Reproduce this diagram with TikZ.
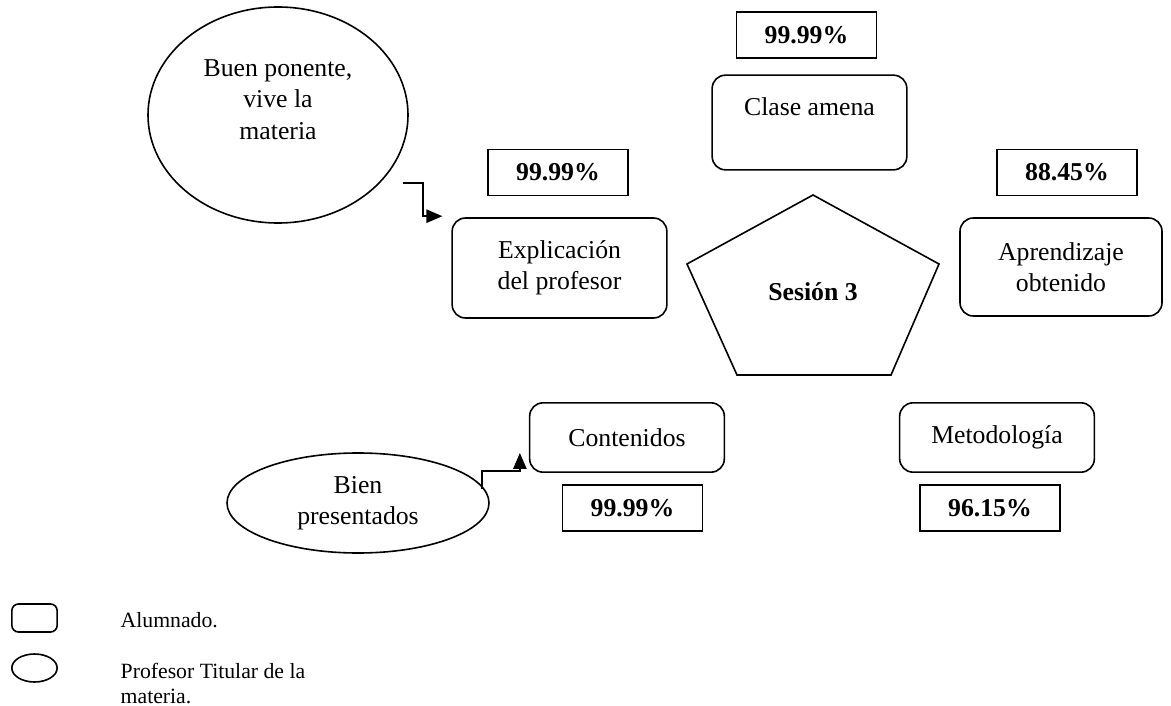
\documentclass[tikz,border=0pt]{standalone}
\usepackage{fontspec}
\setmainfont{Liberation Serif}
\usetikzlibrary{arrows.meta, positioning, shapes.geometric, calc}

\begin{document}
\begin{tikzpicture}[
    x=0.75pt, y=-0.75pt,
    every node/.style={font=\fontsize{19.3}{23.5}\selectfont},
    rbox/.style={rectangle, draw, line width=1.2pt, rounded corners=10pt, align=center, inner sep=0pt, minimum width=146pt, minimum height=52pt},
    pct/.style={rectangle, draw, line width=1.2pt, inner sep=0pt, minimum width=105pt, minimum height=34.5pt, font=\fontsize{19.3}{23.5}\selectfont\bfseries},
    prof/.style={ellipse, draw, line width=1.2pt, align=center, inner sep=0pt},
    arrow/.style={-{Triangle[length=12pt, width=10pt]}, line width=1.2pt},
    legend/.style={font=\fontsize{16.3}{19}\selectfont, align=left, anchor=west}
]
\useasboundingbox (0,0) rectangle (1171,706);

% ============ CENTRE ============
\draw[line width=1.2pt] (813,195) -- (939,264) -- (891,375) -- (737,375) -- (687,264) -- cycle;
\node[font=\fontsize{19.3}{23.5}\selectfont\bfseries] (sesion) at (813,292) {Sesión 3};

% ============ ALUMNADO ============
\node[rbox, minimum width=146pt, minimum height=71pt] (clase) at (809.5,122.5) {Clase amena\\\mbox{}};
\node[rbox, minimum width=161pt, minimum height=75pt] (expl) at (559.5,268) {Explicación\\del profesor};
\node[rbox, minimum width=151.5pt, minimum height=73.5pt] (apr) at (1061,267) {Aprendizaje\\obtenido};
\node[rbox] (cont) at (627,437.5) {Contenidos};
\node[rbox] (met) at (997,437.5) {Metodología};

% Percentages
\node[pct] (pclase) at (806.5,35) {99.99\%};
\node[pct] (pexpl) at (558,172.5) {99.99\%};
\node[pct] (papr) at (1067,172.5) {88.45\%};
\node[pct] (pcont) at (632.5,508) {99.99\%};
\node[pct] (pmet) at (990,508) {96.15\%};

% ============ PROFESOR ============
\node[prof, minimum width=195pt, minimum height=162pt] (ponente) at (278,115) {Buen ponente,\\vive la\\materia\\\mbox{}};
\node[prof, minimum width=196.5pt, minimum height=75pt] (presentados) at (358,503) {Bien\\presentados};

% Arrows
\coordinate (a1) at (403,183);
\coordinate (a2) at (482,489);
\draw[arrow] (a1) -- ++(20,0) |- ($(expl.north west)+(-9,-1)$);
\draw[arrow] (a2) |- ($(cont.south west)+(-9,-2)$) -- ($(cont.south west)+(-9,-20)$);

% ============ LEGEND ============
\node[rbox, minimum width=34pt, minimum height=21pt, rounded corners=5pt] (lalum) at (34.5,618) {};
\node[prof, minimum width=34pt, minimum height=21pt] (lprof) at (34.5,668) {};
\node[legend] (talum) at (116,620) {Alumnado.};
\node[legend, anchor=north west] (tprof) at (116,658) {Profesor Titular de la\\materia.};

\end{tikzpicture}
\end{document}
